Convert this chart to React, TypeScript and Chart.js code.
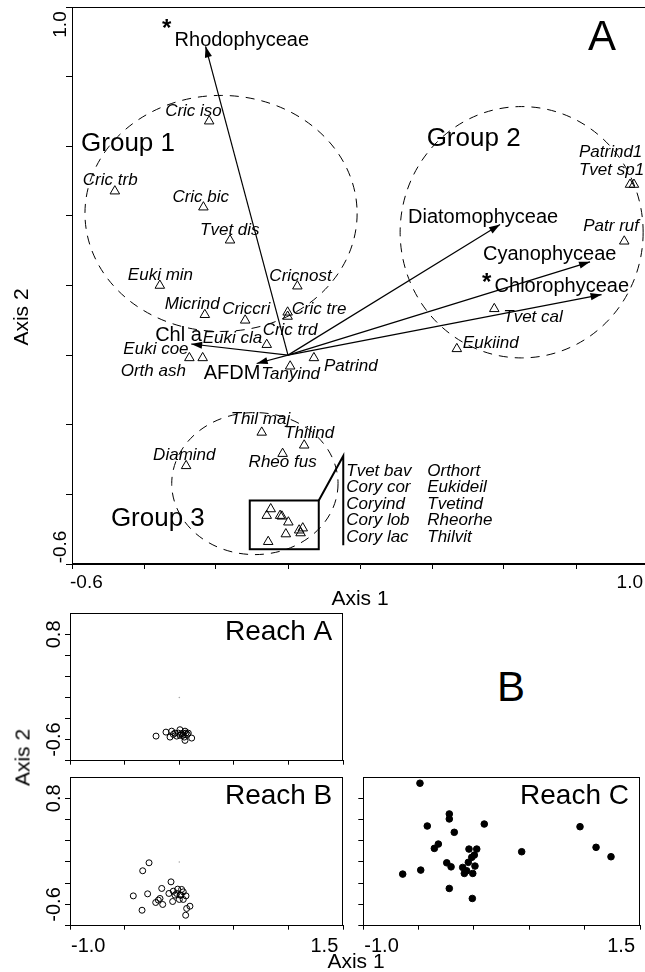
import React, { useEffect, useRef } from 'react';
import { Chart, registerables } from 'chart.js';

Chart.register(...registerables);

const FONT = '"Liberation Sans", Arial, Helvetica, sans-serif';

// ===== Panel A : species scores (open triangles) =====
const SPECIES = ['Cric iso', 'Cric trb', 'Cric bic', 'Tvet dis', 'Euki min', 'Cricnost', 'Micrind', 'Criccri', 'Cric tre', 'Cric trd', 'Euki cla', 'Euki coe', 'Orth ash', 'Tanyind', 'Patrind', 'Thil maj', 'Thilind', 'Rheo fus', 'Diamind', 'Patrind1', 'Tvet sp1', 'Patr ruf', 'Tvet cal', 'Eukiind'];
const SPECIES_X = [-0.219, -0.481, -0.235, -0.161, -0.356, 0.026, -0.231, -0.119, -0.001, -0.001, -0.059, -0.274, -0.237, 0.006, 0.072, -0.073, 0.045, -0.015, -0.283, 0.950, 0.961, 0.934, 0.573, 0.469];
const SPECIES_Y = [0.672, 0.471, 0.425, 0.330, 0.200, 0.198, 0.116, 0.100, 0.123, 0.111, 0.030, -0.008, -0.008, -0.032, -0.008, -0.222, -0.259, -0.283, -0.318, 0.490, 0.490, 0.327, 0.133, 0.018];

// species inside the boxed cluster of Group 3
const BOX_SPECIES = ['Tvet bav', 'Cory cor', 'Coryind', 'Cory lob', 'Cory lac', 'Orthort', 'Eukideil', 'Tvetind', 'Rheorhe', 'Thilvit'];
const BOX_X = [-0.048, -0.059, -0.022, -0.017, 0.001, 0.041, 0.031, 0.035, -0.006, -0.055];
const BOX_Y = [-0.442, -0.461, -0.461, -0.463, -0.480, -0.497, -0.503, -0.511, -0.514, -0.536];

// environmental vectors (arrows from the origin)
const VECTORS = ['Rhodophyceae', 'Chl a', 'AFDM', 'Diatomophyceae', 'Cyanophyceae', 'Chlorophyceae'];
const VECTOR_X = [-0.229, -0.269, -0.087, 0.589, 0.839, 0.871];
const VECTOR_Y = [0.887, 0.032, -0.024, 0.375, 0.268, 0.174];
const VECTOR_STAR = [true, false, false, false, false, true];

// groups (dashed ellipses)
const GROUPS = ['Group 1', 'Group 2', 'Group 3'];
const GROUP_CX = [-0.186, 0.649, -0.092];
const GROUP_CY = [0.407, 0.353, -0.369];
const GROUP_RX = [0.378, 0.3375, 0.231];
const GROUP_RY = [0.339, 0.361, 0.204];

// axes of panel A
const A_MIN = -0.6;
const A_MAX = 1.0;
const A_TICKS = [-0.6, -0.4, -0.2, 0, 0.2, 0.4, 0.6, 0.8, 1.0];
const A_TICK_LABELS = ['-0.6', '1.0'];

// ===== Panel B : sample scores per reach =====
const REACH_NAMES = ['Reach A', 'Reach B', 'Reach C'];
const REACH_A_X = [-0.213, -0.122, -0.085, -0.070, -0.040, -0.024, -0.009, 0.006, 0.021, 0.031, 0.045, 0.052, 0.061, 0.073, 0.082, 0.052, 0.113, -0.055, 0.006, 0.036];
const REACH_A_Y = [-0.553, -0.500, -0.566, -0.487, -0.513, -0.553, -0.513, -0.468, -0.521, -0.543, -0.566, -0.487, -0.513, -0.530, -0.513, -0.610, -0.579, -0.530, -0.543, -0.513];
const REACH_B_X = [-0.277, -0.335, -0.076, -0.161, -0.421, -0.290, -0.095, -0.055, -0.015, 0.021, 0.036, -0.040, 0.006, 0.061, -0.177, -0.192, -0.216, -0.152, -0.061, 0.000, 0.036, 0.067, 0.097, 0.058, -0.341, -0.024, 0.015];
const REACH_B_Y = [-0.051, -0.156, -0.302, -0.389, -0.487, -0.460, -0.455, -0.425, -0.398, -0.402, -0.434, -0.477, -0.477, -0.487, -0.521, -0.543, -0.574, -0.600, -0.561, -0.534, -0.534, -0.653, -0.623, -0.742, -0.676, -0.455, -0.477];
const REACH_C_X = [-0.488, -0.223, -0.223, -0.422, 0.093, -0.178, -0.322, -0.358, -0.045, 0.025, 0.003, -0.020, -0.051, -0.246, -0.207, -0.102, -0.066, -0.087, -0.011, 0.009, -0.481, -0.644, -0.223, -0.015, 0.431, 0.958, 1.103, 1.238];
const REACH_C_Y = [0.998, 0.593, 0.527, 0.434, 0.460, 0.351, 0.196, 0.139, 0.130, 0.130, 0.051, 0.021, -0.045, -0.051, -0.104, -0.112, -0.156, -0.191, -0.191, -0.094, -0.147, -0.200, -0.389, -0.521, 0.095, 0.425, 0.153, 0.029];
const REACH_ORIGIN = [{ x: 0, y: -0.04 }];

const REACH_X_MIN = -1.0;
const REACH_X_MAX = 1.5;
const REACH_Y_MIN = -0.88;
const REACH_Y_MAX = 1.08;
const REACH_X_TICKS = [-1.0, -0.5, 0, 0.5, 1.0, 1.5];
const REACH_Y_TICKS = [-0.88, -0.6, -0.32, -0.04, 0.24, 0.52, 0.8];
const REACH_X_LABELS = ['-1.0', '1.5'];
const REACH_Y_LABELS = ['-0.6', '0.8'];

// ===== label layout (pixel offsets, not data) =====
const SPECIES_LABEL_DX = [-44, -32, -31, -30, -32, -28, -40, -23, 4, -25, -64, -66, -82, -29, 10, -31, -20, -34, -33, -51, -55, -41, 9, 6];
const SPECIES_LABEL_DY = [-5, -6, -5, -5, -6, -5, -6, -6, 2, 19, -2, -4, 18, 13, 13, -8, -7, 13, -6, -28, -10, -10, 13, -1];
const VECTOR_LABEL_DX = [-31, -36, -53, -92, -107, -107];
const VECTOR_LABEL_DY = [0, -3, 16, -2, -2, -3];
const STAR_DX = [-8, 0, 0, 0, 0, -8];
const STAR_DY = [-10, 0, 0, 0, 0, -2];
const GROUP_LABEL_DX = [-140, -95, -144];
const GROUP_LABEL_DY = [-62, -86, 42];

function axis(min: number, max: number, ticks: number[], tickLength: number, position: string) {
  return {
    type: 'linear',
    position,
    min,
    max,
    afterBuildTicks: (scale: any) => {
      scale.ticks = ticks.map((v) => ({ value: v }));
    },
    ticks: { display: false },
    grid: { display: true, drawOnChartArea: false, drawTicks: true, tickLength, color: '#000', lineWidth: 1 },
    border: { display: true, color: '#000', width: 1 },
  };
}

function vText(ctx: any, s: string, cx: number, cy: number, size: number) {
  ctx.save();
  ctx.translate(cx, cy);
  ctx.rotate(-Math.PI / 2);
  ctx.font = `${size}px ${FONT}`;
  ctx.textAlign = 'center';
  ctx.textBaseline = 'alphabetic';
  ctx.fillStyle = '#000';
  ctx.fillText(s, 0, size * 0.358);
  ctx.restore();
}

function frame(ctx: any, ca: any) {
  ctx.save();
  ctx.strokeStyle = '#000';
  ctx.lineWidth = 1;
  ctx.setLineDash([]);
  const l = Math.round(ca.left) + 0.5;
  const t = Math.round(ca.top) + 0.5;
  const r = Math.round(ca.right) - 0.5;
  const b = Math.round(ca.bottom) - 0.5;
  ctx.strokeRect(l, t, r - l, b - t);
  ctx.restore();
}

const mainDecor = {
  id: 'mainDecor',
  beforeDatasetsDraw(chart: any) {
    const { ctx } = chart;
    const xs = chart.scales.x;
    const ys = chart.scales.y;
    ctx.save();
    ctx.strokeStyle = '#000';
    ctx.lineWidth = 1;
    ctx.setLineDash([9, 7]);
    GROUPS.forEach((_, i) => {
      const cx = xs.getPixelForValue(GROUP_CX[i]);
      const cy = ys.getPixelForValue(GROUP_CY[i]);
      const rx = Math.abs(xs.getPixelForValue(GROUP_CX[i] + GROUP_RX[i]) - cx);
      const ry = Math.abs(ys.getPixelForValue(GROUP_CY[i] + GROUP_RY[i]) - cy);
      ctx.beginPath();
      ctx.ellipse(cx, cy, rx, ry, 0, 0, Math.PI * 2);
      ctx.stroke();
    });
    ctx.restore();
  },
  afterDatasetsDraw(chart: any) {
    const { ctx } = chart;
    const xs = chart.scales.x;
    const ys = chart.scales.y;
    const ox = xs.getPixelForValue(0);
    const oy = ys.getPixelForValue(0);
    ctx.save();
    ctx.fillStyle = '#000';
    ctx.strokeStyle = '#000';
    ctx.textAlign = 'left';
    ctx.textBaseline = 'alphabetic';

    // arrowheads + vector labels
    VECTORS.forEach((name, i) => {
      const tx = xs.getPixelForValue(VECTOR_X[i]);
      const ty = ys.getPixelForValue(VECTOR_Y[i]);
      const a = Math.atan2(ty - oy, tx - ox);
      const L = 11;
      const W = 3.6;
      const bx = tx - L * Math.cos(a);
      const by = ty - L * Math.sin(a);
      ctx.beginPath();
      ctx.moveTo(tx, ty);
      ctx.lineTo(bx + W * Math.sin(a), by - W * Math.cos(a));
      ctx.lineTo(bx - W * Math.sin(a), by + W * Math.cos(a));
      ctx.closePath();
      ctx.fill();
      const lx = tx + VECTOR_LABEL_DX[i];
      const ly = ty + VECTOR_LABEL_DY[i];
      ctx.font = `20px ${FONT}`;
      ctx.textAlign = 'left';
      ctx.fillText(name, lx, ly);
      if (VECTOR_STAR[i]) {
        ctx.font = `bold 24px ${FONT}`;
        ctx.textAlign = 'center';
        ctx.fillText('*', lx + STAR_DX[i], ly + STAR_DY[i]);
      }
    });

    // species labels
    ctx.textAlign = 'left';
    ctx.font = `italic 17px ${FONT}`;
    SPECIES.forEach((name, i) => {
      const px = xs.getPixelForValue(SPECIES_X[i]);
      const py = ys.getPixelForValue(SPECIES_Y[i]);
      ctx.fillText(name, px + SPECIES_LABEL_DX[i], py + SPECIES_LABEL_DY[i]);
    });

    // box around the dense cluster + leader line + names
    const bxs = BOX_X.map((v) => xs.getPixelForValue(v));
    const bys = BOX_Y.map((v) => ys.getPixelForValue(v));
    const L = Math.min(...bxs) - 17;
    const R = Math.max(...bxs) + 16;
    const T = Math.min(...bys) - 8.5;
    const B = Math.max(...bys) + 7.5;
    ctx.lineWidth = 2;
    ctx.setLineDash([]);
    ctx.strokeRect(L, T, R - L, B - T);
    const lx = R + 24.5;
    const ly = T - 44.5;
    ctx.beginPath();
    ctx.moveTo(R, T);
    ctx.lineTo(lx, ly);
    ctx.lineTo(lx, B - 4);
    ctx.stroke();
    ctx.font = `italic 17px ${FONT}`;
    BOX_SPECIES.forEach((name, i) => {
      const col = i < 5 ? 0 : 1;
      const row = i % 5;
      ctx.fillText(name, lx + 3 + col * 81, ly + 20 + row * 16.5);
    });

    // group labels
    ctx.font = `26px ${FONT}`;
    GROUPS.forEach((g, i) => {
      const cx = xs.getPixelForValue(GROUP_CX[i]);
      const cy = ys.getPixelForValue(GROUP_CY[i]);
      ctx.fillText(g, cx + GROUP_LABEL_DX[i], cy + GROUP_LABEL_DY[i]);
    });

    // panel letter
    const ca = chart.chartArea;
    ctx.font = `42px ${FONT}`;
    ctx.fillText('A', ca.right - 60, ca.top + 42.5);
    ctx.restore();
  },
  afterDraw(chart: any) {
    const { ctx } = chart;
    const ca = chart.chartArea;
    const xs = chart.scales.x;
    const ys = chart.scales.y;
    frame(ctx, ca);
    ctx.save();
    ctx.fillStyle = '#000';
    ctx.textBaseline = 'alphabetic';
    ctx.font = `19px ${FONT}`;
    ctx.textAlign = 'left';
    ctx.fillText(A_TICK_LABELS[0], xs.getPixelForValue(A_MIN) - 2, ca.bottom + 24);
    ctx.textAlign = 'right';
    ctx.fillText(A_TICK_LABELS[1], xs.getPixelForValue(A_MAX) - 5, ca.bottom + 24);
    ctx.textAlign = 'center';
    ctx.font = `21px ${FONT}`;
    ctx.fillText('Axis 1', ca.left + 288, ca.bottom + 41);
    ctx.restore();
    vText(ctx, A_TICK_LABELS[1], ca.left - 13, ys.getPixelForValue(A_MAX) + 17.5, 19);
    vText(ctx, A_TICK_LABELS[0], ca.left - 13, ys.getPixelForValue(A_MIN) - 17, 19);
    vText(ctx, 'Axis 2', 20, ca.top + 310, 21);
  },
};

function reachDecor(name: string, showX: boolean, showY: boolean) {
  return {
    id: 'reachDecor',
    afterDraw(chart: any) {
      const { ctx } = chart;
      const ca = chart.chartArea;
      const xs = chart.scales.x;
      const ys = chart.scales.y;
      frame(ctx, ca);
      ctx.save();
      ctx.fillStyle = '#000';
      ctx.textBaseline = 'alphabetic';
      ctx.font = `28px ${FONT}`;
      ctx.textAlign = 'right';
      ctx.fillText(name, ca.right - 11, ca.top + 27);
      if (showX) {
        ctx.font = `20px ${FONT}`;
        ctx.textAlign = 'left';
        ctx.fillText(REACH_X_LABELS[0], xs.getPixelForValue(REACH_X_MIN) + 1, ca.bottom + 26.5);
        ctx.textAlign = 'right';
        ctx.fillText(REACH_X_LABELS[1], xs.getPixelForValue(REACH_X_MAX) - 5, ca.bottom + 26.5);
      }
      ctx.restore();
      if (showY) {
        vText(ctx, REACH_Y_LABELS[0], ca.left - 17, ys.getPixelForValue(-0.6), 20);
        vText(ctx, REACH_Y_LABELS[1], ca.left - 17, ys.getPixelForValue(0.8), 20);
      }
    },
  };
}

function zip(xs: number[], ys: number[]) {
  return xs.map((x, i) => ({ x, y: ys[i] }));
}

function baseOptions(padding: any, xScale: any, yScale: any) {
  return {
    animation: false,
    responsive: false,
    maintainAspectRatio: false,
    events: [],
    layout: { padding, autoPadding: false },
    plugins: { legend: { display: false }, tooltip: { enabled: false } },
    scales: { x: xScale, y: yScale },
  };
}

function makeMain() {
  const datasets: any[] = [
    {
      data: zip(SPECIES_X, SPECIES_Y),
      pointStyle: 'triangle',
      pointRadius: 5.5,
      borderWidth: 1,
      borderColor: '#000',
      backgroundColor: 'rgba(0,0,0,0)',
    },
    {
      data: zip(BOX_X, BOX_Y),
      pointStyle: 'triangle',
      pointRadius: 5.5,
      borderWidth: 1,
      borderColor: '#000',
      backgroundColor: 'rgba(0,0,0,0)',
    },
  ];
  VECTORS.forEach((_, i) => {
    datasets.push({
      data: [{ x: 0, y: 0 }, { x: VECTOR_X[i], y: VECTOR_Y[i] }],
      showLine: true,
      pointRadius: 0,
      borderColor: '#000',
      borderWidth: 1.2,
    });
  });
  return {
    type: 'scatter',
    data: { datasets },
    options: baseOptions(
      { left: 66, top: 7, right: 12, bottom: 41 },
      axis(A_MIN, A_MAX, A_TICKS, 5, 'bottom'),
      axis(A_MIN, A_MAX, A_TICKS, 6, 'left'),
    ),
    plugins: [mainDecor],
  };
}

function makeReach(idx: number, xsData: number[], ysData: number[], filled: boolean, padding: any, showX: boolean, showY: boolean) {
  const datasets: any[] = [];
  if (!filled) {
    datasets.push({ data: REACH_ORIGIN, pointRadius: 0.8, borderWidth: 0, backgroundColor: '#aaa' });
  }
  datasets.push({
    data: zip(xsData, ysData),
    pointStyle: 'circle',
    pointRadius: filled ? 3.3 : 3,
    borderWidth: 1,
    borderColor: '#000',
    backgroundColor: filled ? '#000' : 'rgba(255,255,255,0)',
  });
  return {
    type: 'scatter',
    data: { datasets },
    options: baseOptions(
      padding,
      axis(REACH_X_MIN, REACH_X_MAX, REACH_X_TICKS, 4, 'bottom'),
      axis(REACH_Y_MIN, REACH_Y_MAX, REACH_Y_TICKS, 5, 'left'),
    ),
    plugins: [reachDecor(REACH_NAMES[idx], showX, showY)],
  };
}

function ChartCanvas({ make, w, h, left, top }: { make: () => any; w: number; h: number; left: number; top: number }) {
  const ref = useRef<HTMLCanvasElement | null>(null);
  useEffect(() => {
    const chart = new Chart(ref.current as HTMLCanvasElement, make());
    return () => chart.destroy();
  }, []);
  return (
    <canvas
      ref={ref}
      width={w}
      height={h}
      style={{ position: 'absolute', left, top, width: w, height: h }}
    />
  );
}

export default function App() {
  return (
    <div
      style={{
        position: 'absolute',
        left: 0,
        top: 0,
        width: 645,
        height: 972,
        overflow: 'hidden',
        background: '#fff',
        fontFamily: FONT,
        color: '#000',
      }}
    >
      <ChartCanvas make={makeMain} w={660} h={610} left={0} top={0} />
      <ChartCanvas
        make={() => makeReach(0, REACH_A_X, REACH_A_Y, false, { left: 65, top: 5.3, right: 6.7, bottom: 8.3 }, false, true)}
        w={350}
        h={165}
        left={0}
        top={608}
      />
      <ChartCanvas
        make={() => makeReach(1, REACH_B_X, REACH_B_Y, false, { left: 65, top: 4, right: 6.7, bottom: 42.3 }, true, true)}
        w={350}
        h={199}
        left={0}
        top={773}
      />
      <ChartCanvas
        make={() => makeReach(2, REACH_C_X, REACH_C_Y, true, { left: 8.3, top: 4, right: 5, bottom: 42.3 }, true, false)}
        w={295}
        h={199}
        left={350}
        top={773}
      />
      <div style={{ position: 'absolute', left: 497, top: 666, fontSize: 42, lineHeight: '42px' }}>B</div>
      <div
        style={{
          position: 'absolute',
          left: 256,
          top: 950,
          width: 200,
          textAlign: 'center',
          fontSize: 21,
          lineHeight: '21px',
        }}
      >
        Axis 1
      </div>
      <div
        style={{
          position: 'absolute',
          left: -78,
          top: 747,
          width: 200,
          height: 21,
          textAlign: 'center',
          fontSize: 21,
          lineHeight: '21px',
          whiteSpace: 'nowrap',
          transform: 'rotate(-90deg)',
          transformOrigin: '50% 50%',
        }}
      >
        Axis 2
      </div>
    </div>
  );
}
